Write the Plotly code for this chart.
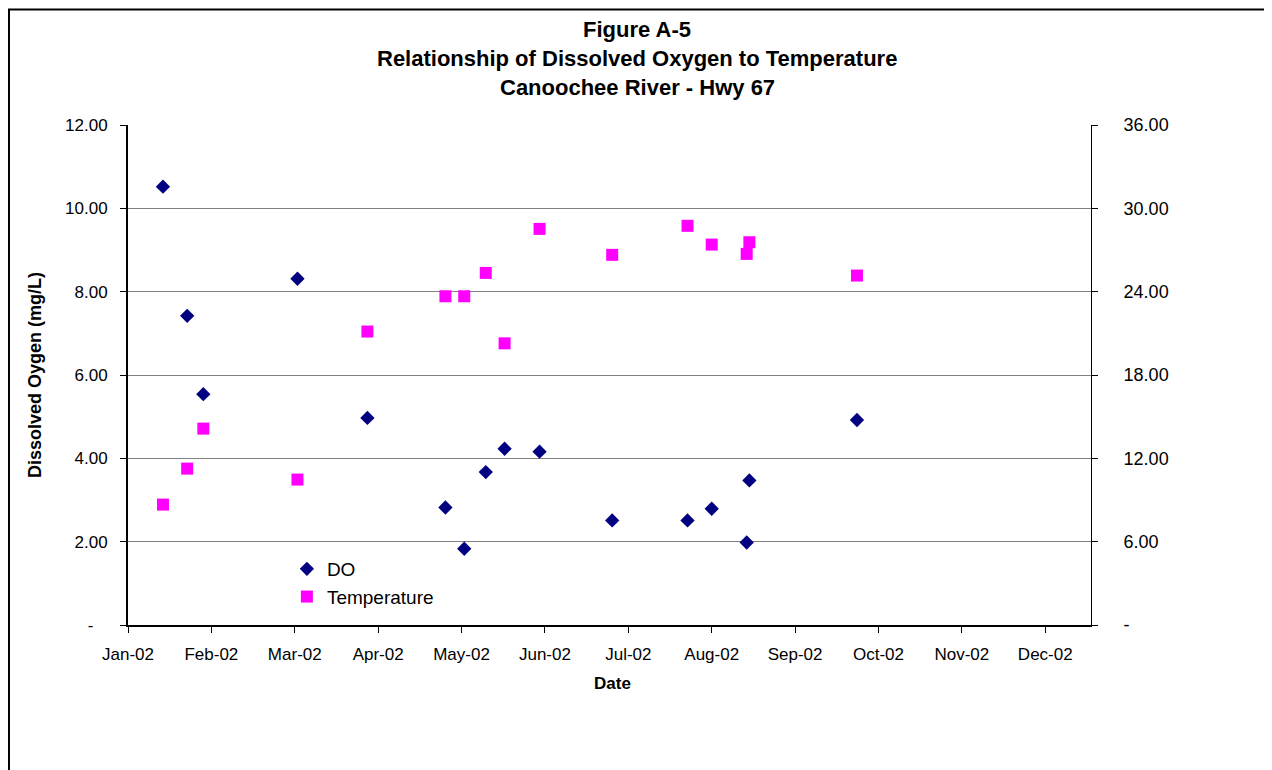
import plotly.graph_objects as go

# sample dates and readings
dates = ["2002-01-14", "2002-01-23", "2002-01-29", "2002-03-05", "2002-03-31",
         "2002-04-29", "2002-05-06", "2002-05-14", "2002-05-21", "2002-06-03",
         "2002-06-30", "2002-07-28", "2002-08-06", "2002-08-19", "2002-08-20",
         "2002-09-29"]
do_vals = [10.52, 7.42, 5.54, 8.31, 4.97, 2.82, 1.83, 3.67, 4.23, 4.16,
           2.51, 2.51, 2.79, 1.98, 3.47, 4.92]
temp_vals = [8.67, 11.26, 14.14, 10.47, 21.13, 23.67, 23.67, 25.35, 20.28, 28.52,
             26.65, 28.74, 27.39, 26.72, 27.56, 25.16]

# axis ticks (Excel-style fixed 31 day unit)
x_tick_dates = ["2002-01-01", "2002-02-01", "2002-03-04", "2002-04-04", "2002-05-05",
                "2002-06-05", "2002-07-06", "2002-08-06", "2002-09-06", "2002-10-07",
                "2002-11-07", "2002-12-08"]
x_tick_labels = ["Jan-02", "Feb-02", "Mar-02", "Apr-02", "May-02", "Jun-02",
                 "Jul-02", "Aug-02", "Sep-02", "Oct-02", "Nov-02", "Dec-02"]
left_ticks = [0, 2, 4, 6, 8, 10, 12]
left_labels = ["-\u00a0\u00a0\u00a0", "2.00", "4.00", "6.00", "8.00", "10.00", "12.00"]
right_ticks = [0, 6, 12, 18, 24, 30, 36]
right_labels = ["-", "6.00", "12.00", "18.00", "24.00", "30.00", "36.00"]

FONT = "Arial, Liberation Sans, sans-serif"

fig = go.Figure()
fig.add_trace(go.Scatter(x=dates, y=do_vals, mode="markers", name="DO",
                         marker=dict(symbol="diamond", size=11, color="#000080")))
fig.add_trace(go.Scatter(x=dates, y=temp_vals, mode="markers", name="Temperature",
                         yaxis="y2",
                         marker=dict(symbol="square", size=12, color="#FF00FF")))

# page body has an 8px margin, so the plot box is shifted up/left by 8px
fig.update_layout(
    width=1272, height=770,
    margin=dict(l=120, r=189, t=117, b=153),
    paper_bgcolor="white", plot_bgcolor="white",
    font=dict(family=FONT, size=17, color="black"),
    showlegend=True,
    legend=dict(x=0.165, y=0.15, xanchor="left", yanchor="top",
                bgcolor="rgba(0,0,0,0)", font=dict(size=19), tracegroupgap=0),
    xaxis=dict(type="date", range=["2002-01-01", "2002-12-25"],
               tickmode="array", tickvals=x_tick_dates, ticktext=x_tick_labels,
               ticks="outside", ticklen=6, tickcolor="black",
               showline=True, linecolor="black", linewidth=2,
               showgrid=False, zeroline=False, ticklabelstandoff=7),
    yaxis=dict(range=[0, 12], tickmode="array", tickvals=left_ticks, ticktext=left_labels,
               ticks="outside", ticklen=6, tickcolor="black",
               showline=True, linecolor="black", linewidth=2,
               showgrid=True, gridcolor="#808080", gridwidth=1,
               zeroline=False, ticklabelstandoff=9),
    yaxis2=dict(range=[0, 36], overlaying="y", side="right",
                tickmode="array", tickvals=right_ticks, ticktext=right_labels,
                ticks="outside", ticklen=6, tickcolor="black",
                showline=True, linecolor="black", linewidth=1,
                showgrid=False, zeroline=False, ticklabelstandoff=22,
                tickfont=dict(size=18)),
)

# title lines
title_lines = ["Figure A-5", "Relationship of Dissolved Oxygen to Temperature",
               "Canoochee River - Hwy 67"]
for i, line in enumerate(title_lines):
    fig.add_annotation(text="<b>" + line + "</b>", xref="paper", yref="paper",
                       x=0.5286, y=1.1916 - i * 0.058, xanchor="center", yanchor="middle",
                       showarrow=False, font=dict(size=22))

fig.add_annotation(text="<b>Dissolved Oygen (mg/L)</b>", xref="paper", yref="paper",
                   x=-0.0966, y=0.5, textangle=-90, showarrow=False,
                   xanchor="center", yanchor="middle", font=dict(size=18))
fig.add_annotation(text="<b>Date</b>", xref="paper", yref="paper",
                   x=0.503, y=-0.1174, showarrow=False,
                   xanchor="center", yanchor="middle", font=dict(size=17))

# chart-area border
fig.add_shape(type="rect", xref="paper", yref="paper",
              x0=-0.1236, x1=1.3, y0=-0.5, y1=1.231,
              line=dict(color="black", width=2), layer="below")

fig.write_html("out.html")
